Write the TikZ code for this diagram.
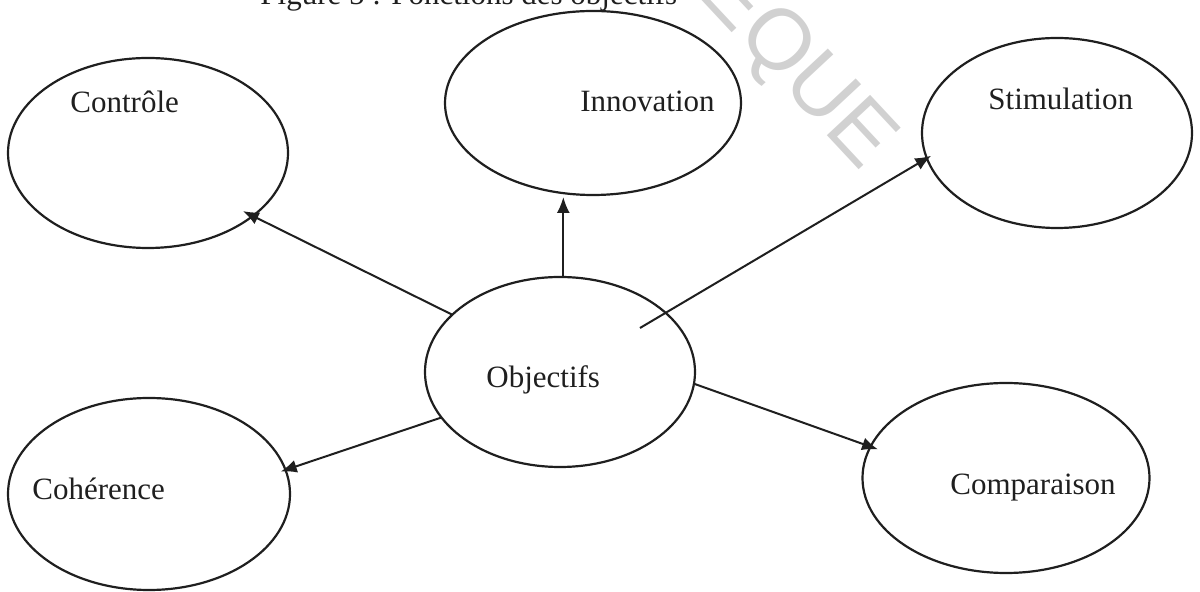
\documentclass[tikz,border=0pt]{standalone}
\usepackage{fontspec}
\setmainfont{Liberation Serif}
\newfontfamily\wmfont{Liberation Sans}
\usetikzlibrary{shapes.geometric,arrows.meta}
\begin{document}
\begin{tikzpicture}[x=0.5pt,y=-0.5pt,
  bubble/.style={draw=black!88,line width=1.1pt,ellipse,inner sep=0pt,outer sep=0pt},
  lbl/.style={anchor=base west,inner sep=0pt,font=\fontsize{15.5}{18}\selectfont,text=black!88},
  link/.style={draw=black!88,line width=1pt,-{Latex[length=8pt,width=6.5pt]}},
  wmark/.style={font=\wmfont\fontsize{43}{44}\selectfont,text=black!18,inner sep=0pt}]
\useasboundingbox (0,0) rectangle (1200,592);
\clip (0,0) rectangle (1200,592);

% faint diagonal stamp
\node[wmark,rotate=-47] (wm) at (795,68) {EQUE};

% caption, cut at the upper edge
\node[lbl] (title) at (260,5) {Figure 5 : Fonctions des objectifs};

% the six bubbles
\node[bubble,minimum width=140pt,minimum height=95pt] (ctrl) at (148,153) {};
\node[bubble,minimum width=148pt,minimum height=92pt] (inno) at (593,103) {};
\node[bubble,minimum width=135pt,minimum height=95pt] (stim) at (1057,133) {};
\node[bubble,minimum width=135pt,minimum height=95pt] (obj)  at (560,372) {};
\node[bubble,minimum width=141pt,minimum height=96pt] (coh)  at (149,494) {};
\node[bubble,minimum width=143.5pt,minimum height=95pt] (comp) at (1006,478) {};

% their labels
\node[lbl] (ctrl-t) at (70,113)  {Contrôle};
\node[lbl] (inno-t) at (580,112) {Innovation};
\node[lbl] (stim-t) at (988,110) {Stimulation};
\node[lbl] (obj-t)  at (486,388) {Objectifs};
\node[lbl] (coh-t)  at (32,500)  {Cohérence};
\node[lbl] (comp-t) at (950,495) {Comparaison};

% arrows from the centre
\coordinate (stimTail) at (640,328);
\draw[link,shorten >=-5.5pt] (obj.152) -- (ctrl.-31.5);
\draw[link,shorten >=1pt] (obj.88) -- (obj.88 |- inno.south);
\draw[link,shorten >=-2.5pt] (stimTail) -- (stim.191.8);
\draw[link,shorten >=-4pt] (obj.-5.5) -- (comp.167);
\draw[link,shorten >=-2.5pt] (obj.201.8) -- (coh.10);
\end{tikzpicture}
\end{document}
